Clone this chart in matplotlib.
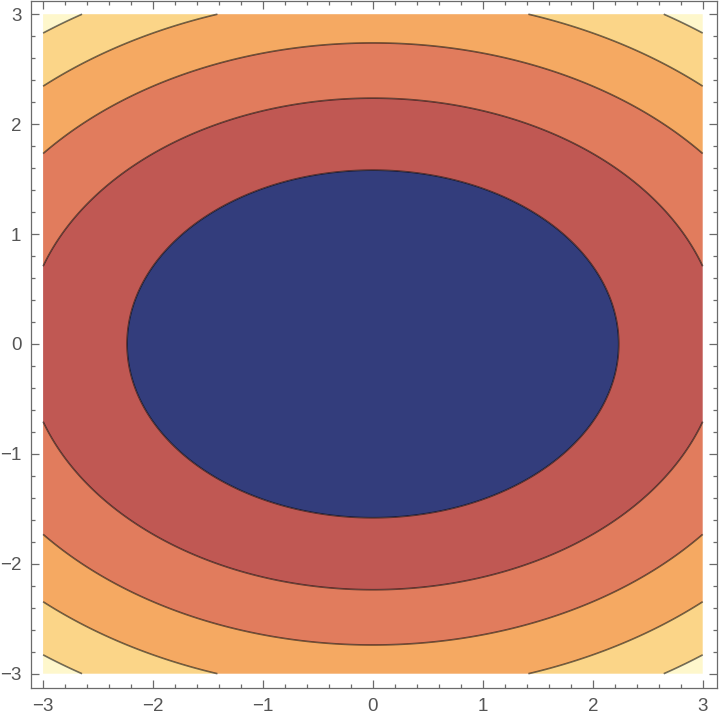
import numpy as np
import matplotlib.pyplot as plt
from matplotlib.ticker import MultipleLocator

# contour levels of f(x, y) = x^2 + 2 y^2 on [-3, 3] x [-3, 3]
levels = [0, 5, 10, 15, 20, 25, 27]
band_colors = ['#333d7c', '#c05853', '#e17c5d', '#f5a962', '#fbd588', '#fef7cc']
line_levels = [5, 10, 15, 20, 25]
major_ticks = [-3, -2, -1, 0, 1, 2, 3]

x = np.linspace(-3, 3, 601)
y = np.linspace(-3, 3, 601)
X, Y = np.meshgrid(x, y)
Z = X**2 + 2 * Y**2

fig = plt.figure(figsize=(7.2, 7.22), dpi=100)
ax = fig.add_axes([31 / 720, 34 / 722, 686 / 720, 687 / 722])

ax.contourf(X, Y, Z, levels=levels, colors=band_colors, antialiased=True)
ax.contour(X, Y, Z, levels=line_levels, colors='black', alpha=0.55, linewidths=1.2)

ax.set_xlim(-3.11, 3.13)
ax.set_ylim(-3.13, 3.12)

tick_color = '#6b6b6b'
for s in ax.spines.values():
    s.set_color(tick_color)
    s.set_linewidth(0.9)

ax.xaxis.set_minor_locator(MultipleLocator(0.2))
ax.yaxis.set_minor_locator(MultipleLocator(0.2))
ax.set_xticks(major_ticks)
ax.set_yticks(major_ticks)
labels = [str(t).replace('-', '\u2212') for t in major_ticks]
ax.set_xticklabels(labels, family='Liberation Sans')
ax.set_yticklabels(labels, family='Liberation Sans')

ax.tick_params(which='both', direction='in', top=True, right=True,
               color=tick_color, width=0.9, labelcolor='#555555', labelsize=13.5)
ax.tick_params(which='major', length=5.5, pad=7)
ax.tick_params(which='minor', length=3)

fig.savefig('out.png', dpi=100, facecolor='white')
